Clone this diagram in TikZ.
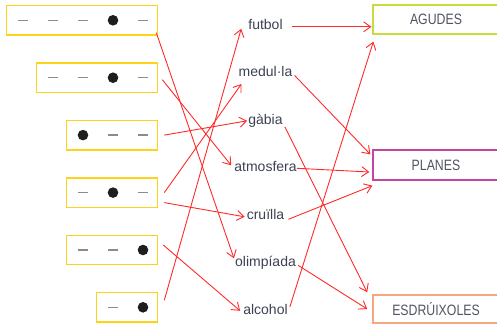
\documentclass[tikz,border=0pt]{standalone}
\usepackage{fontspec}
\setmainfont{Liberation Sans}
\newfontfamily\rotulfont[FakeStretch=0.82]{Liberation Sans}
\usetikzlibrary{arrows.meta}

\definecolor{vermell}{HTML}{FF2A2A}
\definecolor{groc}{HTML}{FFD21A}
\definecolor{llima}{HTML}{C8DC3C}
\definecolor{rosa}{HTML}{C2459E}
\definecolor{taronja}{HTML}{F7A77E}
\definecolor{tinta}{HTML}{3C4150}
\definecolor{guio}{HTML}{8C8C8C}
\definecolor{punt}{HTML}{1E1E1E}

\begin{document}
\begin{tikzpicture}[x=1pt, y=-1pt, >={Straight Barb[length=7pt,width=10pt]},
  patro/.style={draw=groc, line width=1.3pt, minimum height=29.5pt, inner sep=0pt, anchor=east},
  paraula/.style={text=tinta, font=\fontsize{14}{16}\selectfont, inner sep=0pt, text height=10pt, text depth=3pt},
  tipus/.style={line width=1.3pt, minimum width=126pt, inner sep=0pt, text=tinta!90, font=\rotulfont\fontsize{15}{17}\selectfont},
  fletxa/.style={vermell, line width=0.9pt, ->},
  atona/.style={guio, line width=1.5pt},
  tonica/.style={fill=punt}]
  \clip (0,0) rectangle (497,327);

  % Patrons de sil.labes (caixes grogues)
  \node[patro, minimum width=151pt] (p1) at (158.3,20.3) {};
  \node[patro, minimum width=121pt] (p2) at (158.3,77.7) {};
  \node[patro, minimum width=91pt] (p3) at (158.3,135.1) {};
  \node[patro, minimum width=91pt] (p4) at (158.3,192.6) {};
  \node[patro, minimum width=91pt] (p5) at (158.3,250) {};
  \node[patro, minimum width=61pt] (p6) at (158.3,307.3) {};

  % guions = atones, punts = toniques
  \foreach \x in {23,53,83,143} \draw[atona] (\x-5,20.3) -- (\x+5,20.3);
  \fill[tonica] (113,20.3) circle (5.3pt);
  \foreach \x in {53,83,143} \draw[atona] (\x-5,77.7) -- (\x+5,77.7);
  \fill[tonica] (113,77.7) circle (5.3pt);
  \foreach \x in {113,143} \draw[atona] (\x-5,135.1) -- (\x+5,135.1);
  \fill[tonica] (83,135.1) circle (5.3pt);
  \foreach \x in {83,143} \draw[atona] (\x-5,192.6) -- (\x+5,192.6);
  \fill[tonica] (113,192.6) circle (5.3pt);
  \foreach \x in {83,113} \draw[atona] (\x-5,250) -- (\x+5,250);
  \fill[tonica] (143,250) circle (5.3pt);
  \draw[atona] (108,307.3) -- (118,307.3);
  \fill[tonica] (143,307.3) circle (5.3pt);

  % Paraules
  \node[paraula] (futbol) at (265.5,25.8) {futbol};
  \node[paraula] (medulla) at (265.5,73.3) {medul·la};
  \node[paraula] (gabia) at (265.5,120.8) {gàbia};
  \node[paraula] (atmosfera) at (265.5,168.3) {atmosfera};
  \node[paraula] (cruilla) at (265.5,215.8) {cruïlla};
  \node[paraula] (olimpiada) at (265.5,263.3) {olimpíada};
  \node[paraula] (alcohol) at (265.5,310.8) {alcohol};

  % Tipus de paraules
  \node[tipus, draw=llima, minimum height=29pt] (agudes) at (436,19.5) {AGUDES};
  \node[tipus, draw=rosa, minimum height=30pt] (planes) at (436,165) {PLANES};
  \node[tipus, draw=taronja, minimum height=28pt, line width=1.6pt] (esdruixoles) at (436,309) {ESDRÚIXOLES};

  % Patro -> paraula
  \draw[fletxa] ([xshift=-2pt,yshift=3pt]p1.south east) -- ([xshift=-1pt,yshift=5pt]olimpiada.west);
  \draw[fletxa] ([xshift=4pt,yshift=-2pt]p2.east) -- ([xshift=-3pt,yshift=3pt]atmosfera.west);
  \draw[fletxa] ([xshift=6pt]p3.east) -- ([xshift=-1pt]gabia.west);
  \draw[fletxa] ([xshift=6pt]p4.east) -- ([xshift=3pt,yshift=-4pt]medulla.south west);
  \draw[fletxa] ([xshift=6pt,yshift=-10pt]p4.east) -- ([xshift=-2pt,yshift=-1pt]cruilla.west);
  \draw[fletxa] ([xshift=5pt,yshift=5pt]p5.east) -- ([xshift=-3pt]alcohol.west);
  \draw[fletxa] ([xshift=6pt,yshift=7pt]p6.east) -- ([xshift=-7pt,yshift=-3pt]futbol.west);

  % Paraula -> tipus
  \draw[fletxa] ([xshift=9pt,yshift=-1pt]futbol.east) -- ([xshift=-1pt,yshift=-1pt]futbol.east -| agudes.west);
  \draw[fletxa] ([xshift=2pt,yshift=4pt]alcohol.east) -- ([xshift=1pt,yshift=-7pt]agudes.south west);
  \draw[fletxa, shorten <=3pt] (medulla.east) -- ([xshift=-2pt,yshift=-5pt]planes.north west);
  \draw[fletxa] (atmosfera.east) -- ([xshift=-3pt,yshift=-7pt]planes.west);
  \draw[fletxa] ([xshift=4pt,yshift=-3.5pt]cruilla.east) -- ([yshift=-5pt]planes.south west);
  \draw[fletxa] ([xshift=2pt,yshift=-6pt]gabia.east) -- ([xshift=-5pt,yshift=2pt]esdruixoles.north west);
  \draw[fletxa] ([xshift=2pt,yshift=-2pt]olimpiada.east) -- ([xshift=-5pt]esdruixoles.west);
\end{tikzpicture}
\end{document}
